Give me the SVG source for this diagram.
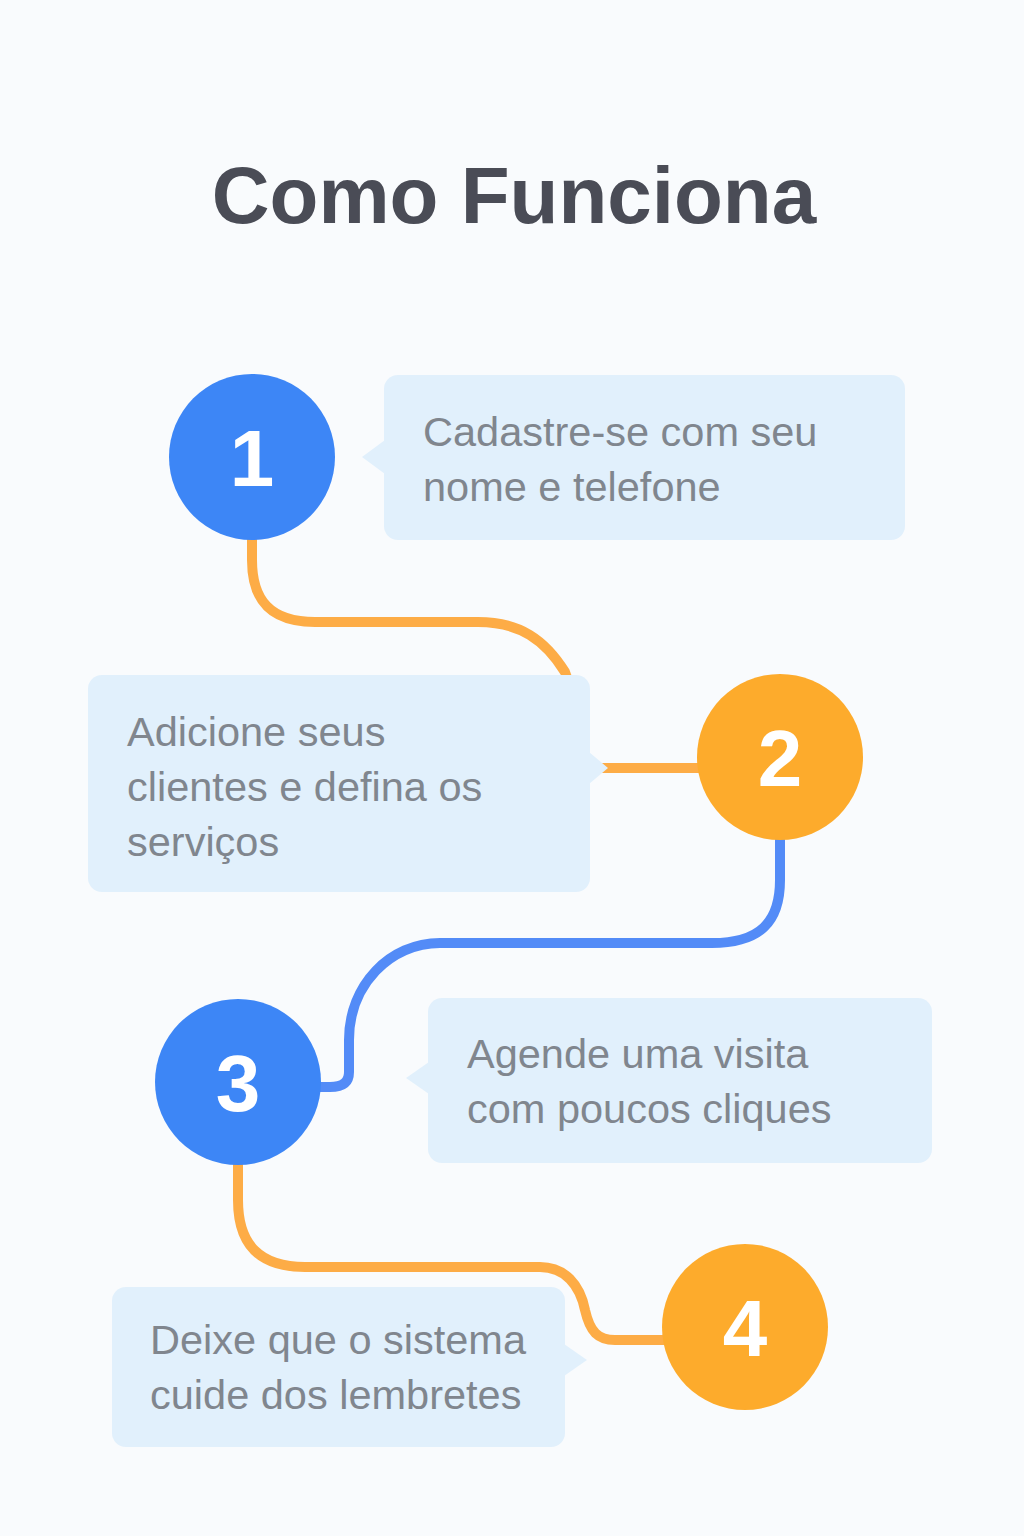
<svg xmlns="http://www.w3.org/2000/svg" width="1024" height="1536" viewBox="0 0 1024 1536">
<style>
.title{font-family:"Liberation Sans",Arial,sans-serif;font-weight:700;font-size:80px;fill:#4a4c56}
.num{font-family:"Liberation Sans",Arial,sans-serif;font-weight:700;font-size:80px;fill:#ffffff}
.txt{font-family:"Liberation Sans",Arial,sans-serif;font-size:41.5px;fill:#80868e}
.box{fill:#e1f0fc}
.blue{fill:#3d86f6}
.orange{fill:#fdab2c}
.conn{fill:none;stroke-width:10;stroke-linecap:round;stroke-linejoin:round}
.co{stroke:#fdac46}
.cb{stroke:#538bf7}
</style>
<rect x="0" y="0" width="1024" height="1536" fill="#f9fbfd"/>
<text class="title" x="514" y="223" text-anchor="middle">Como Funciona</text>
<g id="connectors">
<path class="conn co" d="M252,540 L252,560 C252,600 270,622 315,622 L478,622 C520,622 545,640 565,672 C572,690 576,715 576,740 L576,758 C576,765 580,768 588,768 L700,768"/>
<path class="conn cb" d="M780,840 L780,880 C780,922 760,943 712,943 L440,943 C390,943 349,985 349,1040 L349,1072 C349,1082 343,1087 330,1087 L320,1087"/>
<path class="conn co" d="M238,1165 L238,1200 C238,1245 260,1267 305,1267 L540,1267 C565,1267 580,1285 585,1310 C590,1332 598,1340 615,1340 L670,1340"/>
</g>
<g id="step1">
<circle class="blue" cx="252" cy="457" r="83"/>
<text class="num" x="252" y="486" text-anchor="middle">1</text>
<rect class="box" x="384" y="375" width="521" height="165" rx="14"/>
<polygon class="box" points="385,440 362,457 385,474"/>
<text class="txt" x="423" y="446">Cadastre-se com seu</text>
<text class="txt" x="423" y="501">nome e telefone</text>
</g>
<g id="step2">
<circle class="orange" cx="780" cy="757" r="83"/>
<text class="num" x="780" y="786" text-anchor="middle">2</text>
<rect class="box" x="88" y="675" width="502" height="217" rx="14"/>
<polygon class="box" points="589,752 608,768 589,784"/>
<text class="txt" x="127" y="746">Adicione seus</text>
<text class="txt" x="127" y="801">clientes e defina os</text>
<text class="txt" x="127" y="856">serviços</text>
</g>
<g id="step3">
<circle class="blue" cx="238" cy="1082" r="83"/>
<text class="num" x="238" y="1111" text-anchor="middle">3</text>
<rect class="box" x="428" y="998" width="504" height="165" rx="14"/>
<polygon class="box" points="429,1062 406,1078 429,1094"/>
<text class="txt" x="467" y="1068">Agende uma visita</text>
<text class="txt" x="467" y="1123">com poucos cliques</text>
</g>
<g id="step4">
<circle class="orange" cx="745" cy="1327" r="83"/>
<text class="num" x="745" y="1356" text-anchor="middle">4</text>
<rect class="box" x="112" y="1287" width="453" height="160" rx="14"/>
<polygon class="box" points="564,1344 587,1360 564,1376"/>
<text class="txt" x="150" y="1354">Deixe que o sistema</text>
<text class="txt" x="150" y="1409">cuide dos lembretes</text>
</g>
</svg>
